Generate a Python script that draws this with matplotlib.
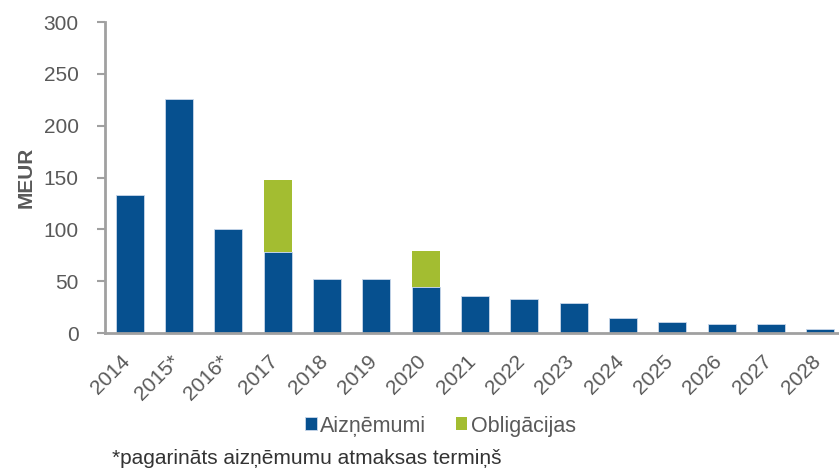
import numpy as np
import matplotlib.pyplot as plt
from matplotlib.transforms import ScaledTranslation

plt.rcParams['font.family'] = ['Liberation Sans', 'DejaVu Sans']

years = ['2014', '2015*', '2016*', '2017', '2018', '2019', '2020', '2021',
         '2022', '2023', '2024', '2025', '2026', '2027', '2028']
loans = [133, 226, 100, 78, 52, 52, 44, 36, 33, 29, 14, 11, 9, 9, 4]
bonds = [0, 0, 0, 70, 0, 0, 35, 0, 0, 0, 0, 0, 0, 0, 0]

blue = '#06508f'
green = '#a3bd31'
grey = '#595959'
axis_grey = '#a0a0a0'

fig = plt.figure(figsize=(8.39, 4.69), dpi=100)
ax = fig.add_axes([105 / 839, 1 - 333 / 469, 740 / 839, 311 / 469])

x = np.arange(len(years))
ax.bar(x, loans, width=0.57, color=blue, edgecolor='#c9d8ea', linewidth=0.6,
       label='Aizņēmumi')
ax.bar(x, bonds, width=0.57, bottom=loans, color=green, linewidth=0,
       label='Obligācijas')

ax.set_xlim(-0.5, 14.5)
ax.set_ylim(0, 300)
ax.set_yticks(range(0, 301, 50))
ax.set_xticks(x)
ax.set_xticklabels(years, rotation=45, ha='right', va='top', rotation_mode='anchor')

for s in ['top', 'right']:
    ax.spines[s].set_visible(False)
for s in ['left', 'bottom']:
    ax.spines[s].set_color(axis_grey)
    ax.spines[s].set_linewidth(2)

ax.tick_params(axis='y', colors=grey, labelsize=15, length=6, width=1.5,
               color=axis_grey, pad=13)
ax.tick_params(axis='x', colors=grey, labelsize=15, length=0, pad=12)

# nudge the rotated labels so their right end sits under the bar centre
# (after tick_params, which resets the label transforms)
shift = ScaledTranslation(-9 / 100, -2 / 100, fig.dpi_scale_trans)
for lab in ax.xaxis.get_majorticklabels():
    lab.set_transform(lab.get_transform() + shift)

ax.set_ylabel('MEUR', fontsize=15, fontweight='bold', color=grey, labelpad=6)

leg = fig.legend(loc='center', bbox_to_anchor=(0.525, 1 - 426 / 469), ncol=2,
                 frameon=False, fontsize=15.5, handlelength=0.55, handleheight=0.55,
                 handletextpad=0.15, columnspacing=1.35)
for t in leg.get_texts():
    t.set_color(grey)

fig.text(112 / 839, 1 - 458 / 469, '*pagarināts aizņēmumu atmaksas termiņš',
         fontsize=15, color='#333333', va='center', ha='left')

fig.savefig('out.png', dpi=100)
